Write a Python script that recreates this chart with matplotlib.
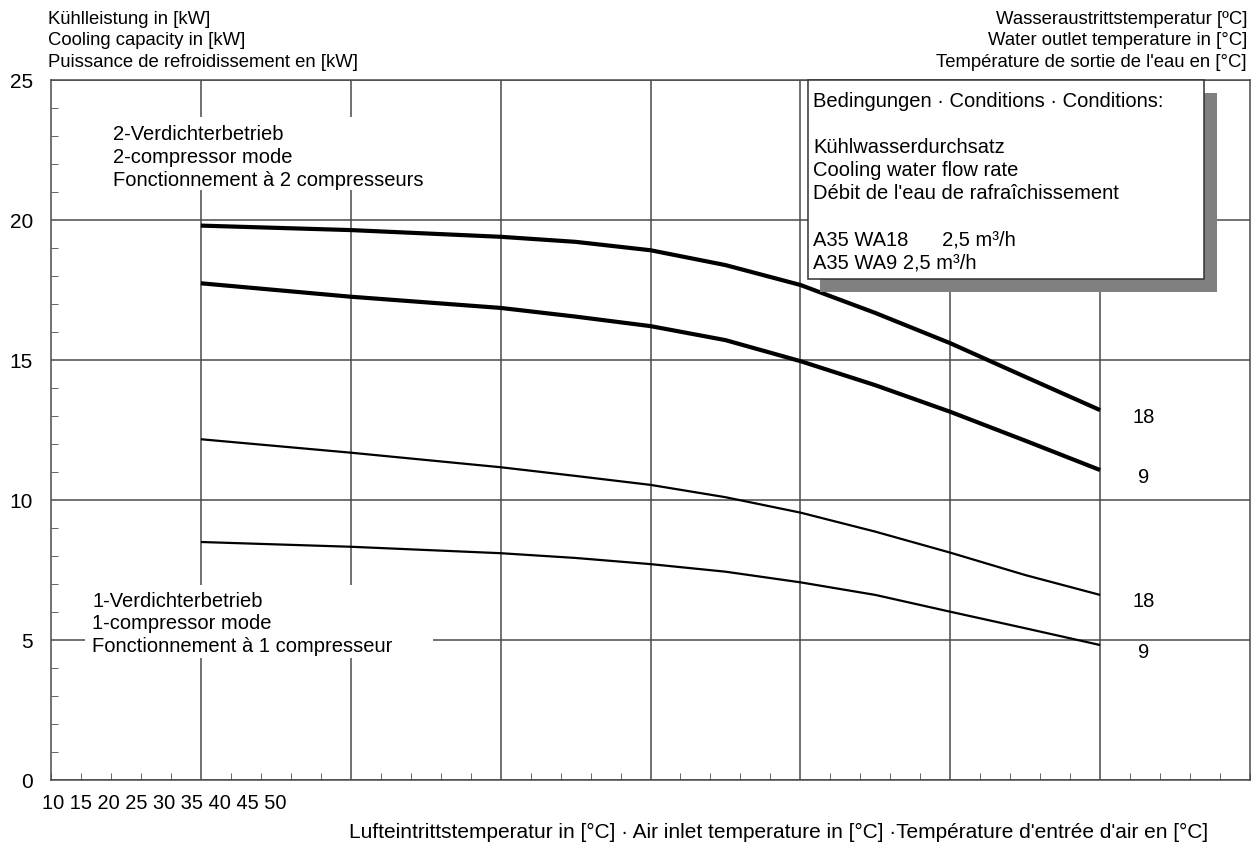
import matplotlib
matplotlib.use("Agg")
import matplotlib.pyplot as plt
from matplotlib.patches import Rectangle

plt.rcParams['font.family'] = ['Liberation Sans', 'DejaVu Sans']

# air inlet temperature (x) and cooling capacity in kW
air_temp = [15, 20, 25, 27.5, 30, 32.5, 35, 37.5, 40, 42.5, 45]
two_comp_wa18 = [19.80, 19.64, 19.40, 19.22, 18.92, 18.39, 17.68, 16.68, 15.60, 14.40, 13.21]
two_comp_wa9 = [17.74, 17.26, 16.86, 16.55, 16.21, 15.71, 14.96, 14.10, 13.15, 12.12, 11.07]
one_comp_wa18 = [12.17, 11.69, 11.17, 10.86, 10.54, 10.10, 9.55, 8.87, 8.12, 7.32, 6.61]
one_comp_wa9 = [8.50, 8.33, 8.10, 7.93, 7.71, 7.44, 7.06, 6.61, 6.01, 5.42, 4.82]
curve_labels = ['18', '9', '18', '9']

y_ticks = [0, 5, 10, 15, 20, 25]
x_tick_text = '10 15 20 25 30 35 40 45 50'

fig = plt.figure(figsize=(12.57, 8.48), dpi=100)
ax = fig.add_axes([51/1257, 68/848, 1199/1257, 700/848])
ax.set_xlim(10, 50)
ax.set_ylim(0, 25)

gc = '#4a4a4a'
for s in ax.spines.values():
    s.set_color(gc)
    s.set_linewidth(1.1)

ax.set_xticks(range(15, 50, 5))
ax.set_xticks(range(10, 51), minor=True)
ax.set_yticks(y_ticks)
ax.set_yticks(range(0, 26), minor=True)
ax.tick_params(axis='x', which='major', length=0, labelbottom=False)
ax.tick_params(axis='x', which='minor', direction='in', length=5, color=gc)
ax.tick_params(axis='y', which='major', length=0, pad=13, labelsize=15)
ax.tick_params(axis='y', which='minor', direction='in', length=5, color=gc)
ax.grid(True, which='major', color=gc, linewidth=1.1, zorder=1)
ax.set_axisbelow(True)

# white masks behind the mode labels
ax.add_patch(Rectangle((0.045, 0.843), 0.284, 0.104, transform=ax.transAxes,
                       facecolor='white', edgecolor='none', zorder=2))
ax.add_patch(Rectangle((0.028, 0.174), 0.291, 0.105, transform=ax.transAxes,
                       facecolor='white', edgecolor='none', zorder=2))

series = [two_comp_wa18, two_comp_wa9, one_comp_wa18, one_comp_wa9]
widths = [3.0, 3.0, 1.6, 1.6]
for ys, lw, lab in zip(series, widths, curve_labels):
    ax.plot(air_temp, ys, color='black', linewidth=lw, zorder=3,
            solid_capstyle='butt', solid_joinstyle='round')
    ax.text(air_temp[-1] + 1.45, ys[-1] - 0.25, lab, fontsize=14.5,
            ha='center', va='center', zorder=4,
            bbox=dict(facecolor='white', edgecolor='none', pad=1.5))

ax.text(0.052, 0.936, '2-Verdichterbetrieb\n2-compressor mode\nFonctionnement à 2 compresseurs',
        transform=ax.transAxes, fontsize=14.5, va='top', ha='left',
        linespacing=1.26, zorder=4)
ax.text(0.0344, 0.269, '1-Verdichterbetrieb\n1-compressor mode\nFonctionnement à 1 compresseur',
        transform=ax.transAxes, fontsize=14.5, va='top', ha='left',
        linespacing=1.24, zorder=4)

# conditions box with shadow
ax.add_patch(Rectangle((0.6414, 0.6971), 0.3311, 0.2843, transform=ax.transAxes,
                       facecolor='#808080', edgecolor='none', zorder=5, clip_on=False))
ax.add_patch(Rectangle((0.6314, 0.7157), 0.3302, 0.2843, transform=ax.transAxes,
                       facecolor='white', edgecolor='#333333', linewidth=1.1,
                       zorder=6, clip_on=False))
ax.text(0.6355, 0.983,
        'Bedingungen · Conditions · Conditions:\n\n'
        'Kühlwasserdurchsatz\nCooling water flow rate\n'
        'Débit de l\'eau de rafraîchissement\n\n'
        'A35 WA18      2,5 m³/h\nA35 WA9 2,5 m³/h',
        transform=ax.transAxes, fontsize=14.5, va='top', ha='left',
        linespacing=1.27, zorder=7)

# headers
ax.text(-0.0025, 1.099, 'Kühlleistung in [kW]\nCooling capacity in [kW]\n'
        'Puissance de refroidissement en [kW]',
        transform=ax.transAxes, fontsize=13.3, va='top', ha='left', linespacing=1.35)
ax.text(0.9975, 1.099, 'Wasseraustrittstemperatur [ºC]\nWater outlet temperature in [°C]\n'
        'Température de sortie de l\'eau en [°C]',
        transform=ax.transAxes, fontsize=13.3, va='top', ha='right', linespacing=1.35,
        multialignment='right')

# x tick labels and axis title
ax.text(-0.0075, -0.0329, x_tick_text, transform=ax.transAxes, fontsize=14.4,
        va='center', ha='left')
ax.text(0.965, -0.0743,
        'Lufteintrittstemperatur in [°C] · Air inlet temperature in [°C] '
        '·Température d\'entrée d\'air en [°C]',
        transform=ax.transAxes, fontsize=15, va='center', ha='right')

fig.savefig('out.png', dpi=100, facecolor='white')
